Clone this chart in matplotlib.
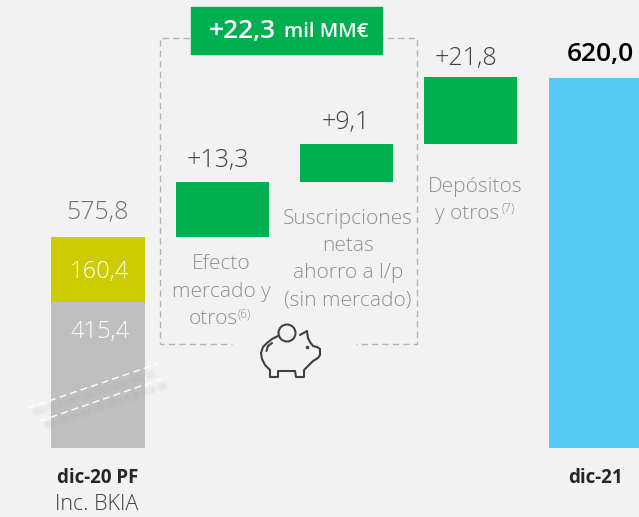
import matplotlib
matplotlib.use("Agg")
import matplotlib.pyplot as plt
from matplotlib.patches import Circle, Rectangle

plt.rcParams["font.family"] = ["Open Sans", "DejaVu Sans"]

BG = "#f2f2f2"
GREEN = "#00b050"
GRIS_TXT = "#8f8f8f"
NUM = "#404040"

# Datos (las alturas dibujadas no van a escala en el original)
alturas_inicio = [146, 65]
etiquetas_inicio = ["415,4", "160,4"]
colores_inicio = ["#bfbfbf", "#cccc00"]
alturas_verdes = [55, 38, 67]
etiquetas_verdes = ["+13,3", "+9,1", "+21,8"]
altura_final = 370
total_inicio = "575,8"
total_final = "620,0"

fig = plt.figure(figsize=(6.39, 5.17), dpi=100, facecolor=BG)

# Barras
ax = fig.add_axes([0, 0, 1, 1], facecolor=BG)
ax.set_xlim(-0.789, 4.354)
ax.set_ylim(-69.5, 447.5)
ax.axis("off")

base = 0
for h, c in zip(alturas_inicio, colores_inicio):
    ax.bar(0, h, width=0.757, bottom=base, color=c)
    base += h
for i, h in enumerate(alturas_verdes):
    ax.bar(i + 1, h, width=0.745, bottom=base, color=GREEN)
    base += h
ax.bar(4, altura_final, width=0.745, color="#55c8f5")

# Capa de anotaciones en pixeles
an = fig.add_axes([0, 0, 1, 1], facecolor="none")
an.set_xlim(0, 639)
an.set_ylim(517, 0)
an.axis("off")

# Recuadro punteado
dash = dict(color="#b4b4b4", lw=1, ls=(0, (4.5, 3)))
an.plot([231, 160, 160, 232], [38, 38, 344, 344], **dash)
an.plot([356, 417, 417, 356], [38, 38, 344, 344], **dash)
an.add_patch(Rectangle((191, 7), 191, 47, color=GREEN, zorder=3))
an.text(209, 31.5, "+22,3", color="white", fontsize=19, weight="semibold", va="center", zorder=4)
an.text(284, 32, "mil MM€", color="white", fontsize=14.5, weight="semibold", va="center", zorder=4)

# Corte de la barra
for (x0, y0, x1, y1) in [(33, 413, 155, 373), (45, 426, 167, 385)]:
    for w in [6.5, 5, 3.5]:
        an.plot([x0, x1], [y0, y1], color="#9a9a9a", lw=w, alpha=0.04, ls=(0, (1.4, 0.5)))
an.plot([28, 157], [408, 364], color="white", lw=1, ls=(0, (5, 3)))
an.plot([40, 167], [421, 377], color="white", lw=1, ls=(0, (5, 3)))

# Textos
num_kw = dict(fontsize=18, ha="center", va="center", weight="light")
blanco_kw = dict(fontsize=17, ha="center", va="center", weight="light", color="white")
an.text(99.5, 272, etiquetas_inicio[1], **blanco_kw)
an.text(100, 332, etiquetas_inicio[0], **blanco_kw)
an.text(98, 213, total_inicio, color="#737373", **num_kw)
an.text(218, 160, etiquetas_verdes[0], color=NUM, **num_kw)
an.text(346, 123, etiquetas_verdes[1], color=NUM, **num_kw)
an.text(466, 59, etiquetas_verdes[2], color=NUM, **num_kw)
an.text(600, 54, total_final, color="black", fontsize=19, ha="center", va="center", weight="semibold")

notas = dict(color=GRIS_TXT, fontsize=15, ha="center", va="center", weight="light")
sup = dict(color=GRIS_TXT, fontsize=8.5, ha="left", va="center", weight="light")
an.text(221, 264, "Efecto", **notas)
an.text(221, 292, "mercado y", **notas)
an.text(213, 319, "otros", **notas)
an.text(238, 314, "(6)", **sup)
an.text(348, 219, "Suscripciones", **notas)
an.text(348, 246, "netas", **notas)
an.text(348, 273, "ahorro a l/p", **notas)
an.text(348, 301, "(sin mercado)", **notas)
an.text(475, 187, "Depósitos", **notas)
an.text(467, 214, "y otros", **notas)
an.text(501, 208, "(7)", **sup)

an.text(98, 478, "dic-20 PF", color="#262626", fontsize=13.5, ha="center", va="center", weight="bold")
an.text(97, 505, "Inc. BKIA", color=NUM, fontsize=15.5, ha="center", va="center", weight="light")
an.text(595, 478, "dic-21", color="#262626", fontsize=13.5, ha="center", va="center", weight="bold")

# Hucha
ic = dict(color="#404040", lw=1.5, solid_capstyle="round", solid_joinstyle="round")
an.add_patch(Circle((287, 333), 8.5, fill=False, ec="#404040", lw=1.5))
cuerpo_x = [278, 272, 267, 263, 261, 262, 265, 270, 270, 278, 278, 295, 296, 304, 304, 308, 313, 318, 320, 320, 317, 313, 310, 308, 307, 300]
cuerpo_y = [336, 339, 343, 347, 353, 359, 365, 370, 377, 377, 371, 371, 377, 377, 370, 366, 361, 358, 355, 349, 347, 346, 342, 338, 331, 335]
an.plot(cuerpo_x, cuerpo_y, **ic)
an.plot([272, 268, 266.5], [343, 346, 351], **ic)
an.plot([307], [347], marker="o", ms=1.5, color="#404040")

fig.savefig("out.png", dpi=100, facecolor=BG)
